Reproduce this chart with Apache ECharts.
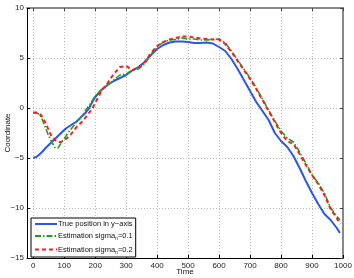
<!DOCTYPE html>
<html>
<head>
<meta charset="utf-8">
<script src="https://cdn.jsdelivr.net/npm/echarts@6/dist/echarts.min.js"></script>
<style>html,body{margin:0;padding:0;background:#fff;}#c{width:354px;height:278px;}</style>
</head>
<body>
<div id="c"></div>
<script>
var time = [0,10,20,30,40,50,60,70,80,90,100,110,120,130,140,150,160,170,180,190,200,
  220,240,260,280,300,320,340,360,380,400,420,440,460,480,500,520,540,560,580,600,
  620,640,660,680,700,720,740,760,780,800,820,840,860,880,900,920,940,960,980,990];
var truePos = [-5.0,-4.9,-4.65,-4.35,-4.0,-3.7,-3.4,-3.1,-2.8,-2.5,-2.2,-1.95,-1.75,-1.55,-1.35,-1.05,-0.75,-0.45,-0.05,0.55,1.1,
  1.8,2.3,2.7,3.0,3.3,3.75,4.1,4.6,5.3,5.9,6.3,6.55,6.65,6.65,6.6,6.5,6.5,6.55,6.45,6.1,
  5.7,4.9,3.9,2.8,1.7,0.6,-0.3,-1.2,-2.5,-3.3,-3.9,-4.8,-6.0,-7.3,-8.5,-9.6,-10.6,-11.2,-12.0,-12.5];
var est01 = [-0.5,-0.5,-0.6,-1.2,-2.0,-2.8,-3.4,-3.95,-4.0,-3.5,-3.1,-2.6,-2.2,-1.8,-1.4,-1.1,-0.7,-0.2,0.25,0.7,1.2,
  1.8,2.3,2.8,3.3,3.4,3.8,3.9,4.4,5.4,6.1,6.6,6.8,6.85,7.0,6.9,6.9,6.8,6.8,6.85,6.9,
  6.5,5.7,4.8,3.9,3.0,2.0,0.9,-0.2,-1.3,-2.3,-3.0,-3.4,-4.4,-5.5,-6.7,-7.5,-8.5,-10.0,-10.8,-11.2];
var est02 = [-0.45,-0.45,-0.55,-0.9,-1.5,-2.2,-2.9,-3.2,-3.4,-3.4,-3.2,-3.0,-2.7,-2.3,-1.9,-1.6,-1.3,-0.9,-0.5,-0.1,0.5,
  1.7,2.5,3.4,4.1,4.2,3.8,4.0,4.6,5.5,6.2,6.6,6.85,7.0,7.15,7.15,7.05,6.95,6.9,6.85,6.85,
  6.4,5.6,4.7,3.8,2.9,1.9,0.8,-0.3,-1.4,-2.5,-3.3,-3.6,-4.6,-5.7,-6.7,-7.6,-8.7,-10.1,-11.0,-11.6];
var xTicks = [0,100,200,300,400,500,600,700,800,900,1000];
var seriesNames = ['True position in y\u2212axis','Estimation sigma0.1','Estimation sigma0.2'];

function pairs(v){ return time.map(function(t,i){ return [t, v[i]]; }); }

var chart = echarts.init(document.getElementById('c'));
var font = 'Liberation Sans, Arial, sans-serif';
var gridLine = {show:true, lineStyle:{color:'#bdbdbd', type:[1,2], width:1}};
chart.setOption({
  animation:false,
  backgroundColor:'#fff',
  textStyle:{fontFamily:font},
  grid:{left:27, right:11, top:8, bottom:20, containLabel:false, outerBoundsMode:'none'},
  xAxis:[{
    type:'value', min:-20, max:1000, position:'bottom',
    name:'Time', nameLocation:'middle', nameGap:10, nameMoveOverlap:false,
    nameTextStyle:{fontSize:8, color:'#111', fontFamily:font, verticalAlign:'top'},
    axisLine:{show:true, onZero:false, lineStyle:{color:'#000', width:1}},
    axisTick:{show:true, inside:true, length:3, customValues:xTicks, lineStyle:{color:'#000'}},
    axisLabel:{show:true, customValues:xTicks, fontSize:8, color:'#222', margin:4, fontFamily:font,
      formatter:function(v){ return String(v); }},
    splitLine:gridLine
  },{
    type:'value', min:-20, max:1000, position:'top',
    axisLine:{show:true, onZero:false, lineStyle:{color:'#888', width:2}},
    axisTick:{show:true, inside:true, length:3, customValues:xTicks, lineStyle:{color:'#444'}},
    axisLabel:{show:false}, splitLine:{show:false}
  }],
  yAxis:[{
    type:'value', min:-15, max:10, interval:5, position:'left',
    name:'Coordinate', nameLocation:'middle', nameGap:15, nameRotate:90, nameMoveOverlap:false,
    nameTextStyle:{fontSize:8, color:'#111', fontFamily:font},
    axisLine:{show:true, onZero:false, lineStyle:{color:'#000', width:1}},
    axisTick:{show:true, inside:true, length:3, lineStyle:{color:'#000'}},
    axisLabel:{fontSize:8, color:'#222', margin:3, fontFamily:font,
      formatter:function(v){ return String(v).replace('-', '\u2212'); }},
    splitLine:gridLine
  },{
    type:'value', min:-15, max:10, interval:5, position:'right',
    axisLine:{show:true, onZero:false, lineStyle:{color:'#888', width:2}},
    axisTick:{show:true, inside:true, length:3, lineStyle:{color:'#444'}},
    axisLabel:{show:false}, splitLine:{show:false}
  }],
  legend:{
    orient:'vertical', left:31, top:218,
    backgroundColor:'#fff', borderColor:'#000', borderWidth:1, borderRadius:0,
    padding:[2,3,2,3], itemGap:4, itemWidth:22, itemHeight:9,
    itemStyle:{opacity:0},
    data:seriesNames,
    formatter:function(n){
      if(n === seriesNames[1]) return 'Estimation sigma{sub|n}=0.1';
      if(n === seriesNames[2]) return 'Estimation sigma{sub|n}=0.2';
      return n;
    },
    textStyle:{fontSize:7.5, color:'#111', fontFamily:font, padding:[0,0,0,-4],
      rich:{sub:{fontSize:5, color:'#111', fontFamily:font, verticalAlign:'bottom', padding:[6,0,0,0]}}}
  },
  series:[
    {name:seriesNames[0], type:'line', data:pairs(truePos), showSymbol:false, symbol:'none',
      lineStyle:{color:'#2b55ee', width:2}, itemStyle:{color:'#2b55ee'}, z:3},
    {name:seriesNames[1], type:'line', data:pairs(est01), showSymbol:false, symbol:'none',
      lineStyle:{color:'#1aa31a', width:1.6, type:[6,2,1.5,2]}, itemStyle:{color:'#1aa31a'}, z:4},
    {name:seriesNames[2], type:'line', data:pairs(est02), showSymbol:false, symbol:'none',
      lineStyle:{color:'#ff1a1a', width:2, type:[4,3]}, itemStyle:{color:'#ff1a1a'}, z:5}
  ]
});
</script>
</body>
</html>
